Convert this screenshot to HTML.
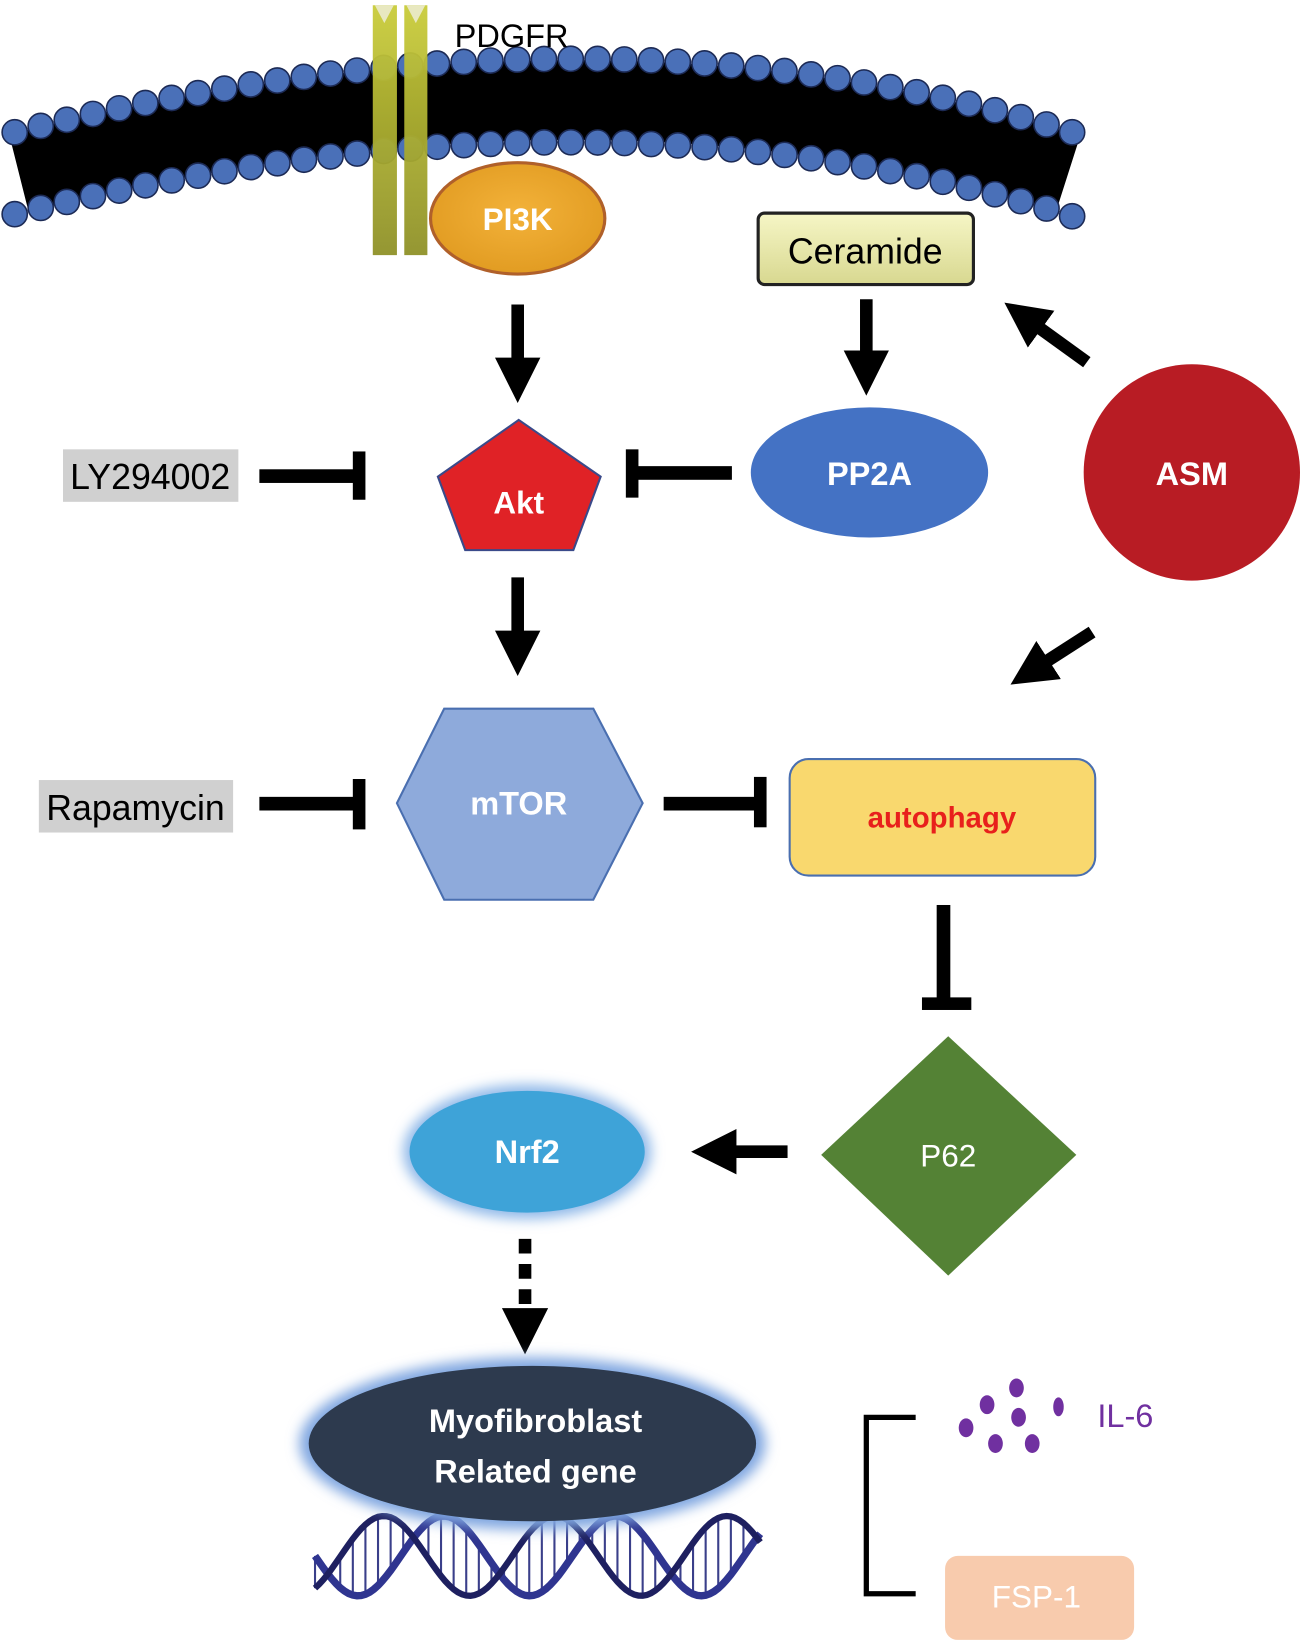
<!DOCTYPE html>
<html><head><meta charset="utf-8"><style>
html,body{margin:0;padding:0;background:#fff}
svg{display:block}
text{font-family:"Liberation Sans",sans-serif}
</style></head><body>
<svg id="s" width="1300" height="1642" viewBox="0 0 1238 1564" preserveAspectRatio="none" xmlns="http://www.w3.org/2000/svg">
<defs>
<linearGradient id="rec" x1="0" x2="0" y1="0" y2="1"><stop offset="0" stop-color="#c9cc3a"/><stop offset="1" stop-color="#8f9128"/></linearGradient>
<radialGradient id="pi" cx="0.5" cy="0.45" r="0.6"><stop offset="0" stop-color="#f3b23a"/><stop offset="1" stop-color="#e09a20"/></radialGradient>
<linearGradient id="cer" x1="0" x2="0" y1="0" y2="1"><stop offset="0" stop-color="#f6f6c6"/><stop offset="1" stop-color="#d8d890"/></linearGradient>
<filter id="glow" x="-20%" y="-30%" width="140%" height="160%"><feGaussianBlur stdDeviation="6"/></filter>
<marker id="ah" viewBox="0 0 10 10" refX="1" refY="5" markerWidth="3.6" markerHeight="3.6" orient="auto" markerUnits="strokeWidth"><path d="M0,0 L10,5 L0,10 z" fill="#000"/></marker>
</defs>

<!-- membrane -->
<path d="M18,165 Q575,25 1017,166" stroke="#000" stroke-width="76" fill="none"/>
<g id="heads"></g>

<!-- receptor -->
<rect x="355" y="5" width="23" height="238" fill="url(#rec)" opacity="0.95"/>
<rect x="385" y="5" width="22" height="238" fill="url(#rec)" opacity="0.95"/>
<path d="M357,5 L366,22 L375,5z M387,5 L396,22 L405,5z" fill="#e8e8c0"/>
<text x="433" y="45" font-size="31" fill="#000">PDGFR</text>

<ellipse cx="493" cy="208" rx="83" ry="53" fill="url(#pi)" stroke="#b0602a" stroke-width="3"/>
<text x="493" y="219" font-size="30" font-weight="bold" fill="#fff" text-anchor="middle">PI3K</text>

<rect x="722" y="203" width="205" height="68" rx="6" fill="url(#cer)" stroke="#222" stroke-width="3"/>
<text x="824" y="251" font-size="34" fill="#000" text-anchor="middle">Ceramide</text>

<g stroke="#000" stroke-width="12" fill="none">
<line x1="493" y1="290" x2="493" y2="345" marker-end="url(#ah)"/>
<line x1="825" y1="285" x2="825" y2="338" marker-end="url(#ah)"/>
<line x1="1035" y1="345" x2="988" y2="311" marker-end="url(#ah)"/>
<line x1="493" y1="550" x2="493" y2="605" marker-end="url(#ah)"/>
<line x1="1040" y1="602" x2="995" y2="631" marker-end="url(#ah)"/>
<line x1="750" y1="1097" x2="697" y2="1097" marker-end="url(#ah)"/>
<line x1="500" y1="1180" x2="500" y2="1250" stroke-dasharray="14,10"/>
</g>
<path d="M478,1246 L522,1246 L500,1290z" fill="#000"/>

<g fill="#000">
<rect x="247" y="447" width="95" height="13"/><rect x="336" y="430" width="12" height="46"/>
<rect x="600" y="444" width="97" height="13"/><rect x="596" y="428" width="12" height="46"/>
<rect x="247" y="759" width="95" height="13"/><rect x="336" y="742" width="12" height="48"/>
<rect x="632" y="759" width="90" height="13"/><rect x="718" y="740" width="12" height="48"/>
<rect x="892" y="862" width="13" height="92"/><rect x="878" y="950" width="47" height="12"/>
</g>

<rect x="60" y="428" width="167" height="50" fill="#d0d0d0"/>
<text x="143" y="466" font-size="34" fill="#000" text-anchor="middle">LY294002</text>
<rect x="37" y="743" width="185" height="50" fill="#d0d0d0"/>
<text x="129" y="781" font-size="34" fill="#000" text-anchor="middle">Rapamycin</text>

<polygon points="494,400 572,454 546,524 443,524 417,454" fill="#e02226" stroke="#3a4a8a" stroke-width="2"/>
<text x="494" y="489" font-size="30" font-weight="bold" fill="#fff" text-anchor="middle">Akt</text>

<ellipse cx="828" cy="450" rx="113" ry="62" fill="#4472c4"/>
<text x="828" y="462" font-size="31" font-weight="bold" fill="#fff" text-anchor="middle">PP2A</text>

<circle cx="1135" cy="450" r="103" fill="#b81c24"/>
<text x="1135" y="462" font-size="31" font-weight="bold" fill="#fff" text-anchor="middle">ASM</text>

<polygon points="378,765 423,675 565,675 612,765 565,857 423,857" fill="#8eaadb" stroke="#4a6fb0" stroke-width="2"/>
<text x="494" y="776" font-size="31" font-weight="bold" fill="#fff" text-anchor="middle">mTOR</text>

<rect x="752" y="723" width="291" height="111" rx="18" fill="#f9d86e" stroke="#4a6fb0" stroke-width="2"/>
<text x="897" y="788" font-size="28" font-weight="bold" fill="#e8201c" text-anchor="middle">autophagy</text>

<polygon points="903,987 1025,1100 903,1215 782,1100" fill="#548235"/>
<text x="903" y="1111" font-size="30" fill="#fff" text-anchor="middle">P62</text>

<ellipse cx="502" cy="1097" rx="118" ry="64" fill="#8fb8e8" filter="url(#glow)"/>
<ellipse cx="502" cy="1097" rx="112" ry="58" fill="#3ea3d8"/>
<text x="502" y="1108" font-size="31" font-weight="bold" fill="#fff" text-anchor="middle">Nrf2</text>

<g fill="none">
<g stroke="#3a3f8a" stroke-width="2" id="rungs"></g>
<path id="d1" stroke="#2f3590" stroke-width="7" d=""/>
<path id="d2" stroke="#1e2060" stroke-width="6" d=""/>
</g>

<ellipse cx="507" cy="1375" rx="222" ry="82" fill="#7fa6e0" filter="url(#glow)"/>
<ellipse cx="507" cy="1375" rx="213" ry="74" fill="#2d3a4e"/>
<text x="510" y="1364" font-size="31" font-weight="bold" fill="#fff" text-anchor="middle">Myofibroblast</text>
<text x="510" y="1412" font-size="31" font-weight="bold" fill="#fff" text-anchor="middle">Related gene</text>

<path d="M872,1350 H825 V1518 H872" stroke="#000" stroke-width="5" fill="none"/>
<g fill="#7030a0">
<ellipse cx="968" cy="1322" rx="7" ry="9"/><ellipse cx="940" cy="1338" rx="7" ry="9"/>
<ellipse cx="1008" cy="1340" rx="5" ry="9"/><ellipse cx="970" cy="1350" rx="7" ry="9"/>
<ellipse cx="920" cy="1360" rx="7" ry="9"/><ellipse cx="948" cy="1375" rx="7" ry="9"/>
<ellipse cx="983" cy="1375" rx="7" ry="9"/>
</g>
<text x="1045" y="1359" font-size="31" fill="#7030a0">IL-6</text>

<rect x="900" y="1482" width="180" height="80" rx="12" fill="#f8cbad"/>
<text x="987" y="1531" font-size="30" fill="#fff" text-anchor="middle">FSP-1</text>
</svg>
<script>
(function(){
var ns="http://www.w3.org/2000/svg",g=document.getElementById("heads");
function row(y0,yc,y1){
 var p=document.createElementNS(ns,"path");
 p.setAttribute("d","M14,"+y0+" Q575,"+yc+" 1021,"+y1);
 var L=p.getTotalLength(),n=Math.round(L/25.5),st=L/n;
 for(var i=0;i<=n;i++){
  var pt=p.getPointAtLength(i*st),c=document.createElementNS(ns,"circle");
  c.setAttribute("cx",pt.x);c.setAttribute("cy",pt.y);c.setAttribute("r",12);
  c.setAttribute("fill","#4a70b8");c.setAttribute("stroke","#1c2a55");c.setAttribute("stroke-width","1.5");
  g.appendChild(c);
 }
}
row(126,-14,126);row(204,66,206);
var a="",b="",r=document.getElementById("rungs");
for(var x=300;x<=725;x+=4){
 var ph=(x-300)/425*Math.PI*2*2.6;
 var ya=1482+38*Math.sin(ph),yb=1482+38*Math.sin(ph+2.2);
 a+=(x==300?"M":"L")+x+","+ya.toFixed(1);
 b+=(x==300?"M":"L")+x+","+yb.toFixed(1);
 if(x%12==0){var ln=document.createElementNS(ns,"line");ln.setAttribute("x1",x);ln.setAttribute("x2",x);ln.setAttribute("y1",ya);ln.setAttribute("y2",yb);r.appendChild(ln);}
}
document.getElementById("d1").setAttribute("d",a);
document.getElementById("d2").setAttribute("d",b);
})();
</script>
</body></html>
